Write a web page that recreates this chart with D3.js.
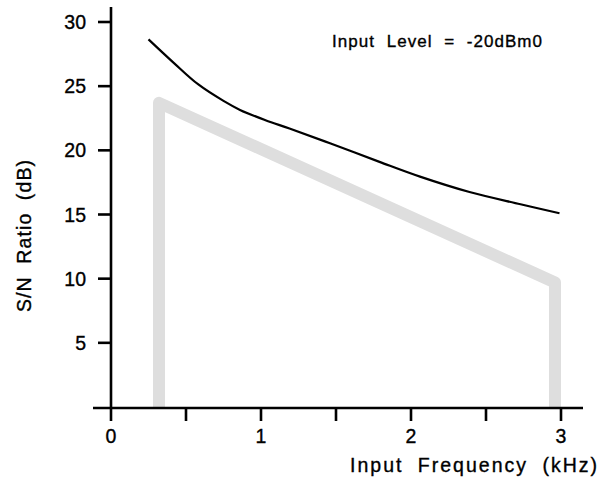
<!DOCTYPE html>
<html>
<head>
<meta charset="utf-8">
<script src="https://cdn.jsdelivr.net/npm/d3@7"></script>
<style>
  html, body { margin: 0; padding: 0; background: #fff; }
  svg { display: block; font-family: "Liberation Sans", Arial, Helvetica, sans-serif; }
  text { fill: #000; stroke: #000; stroke-width: 0.35px; }
</style>
</head>
<body>
<svg id="chart" width="598" height="481"></svg>
<script>
// Data
const curveFreq = [0.25, 0.42, 0.58, 0.75, 0.86, 1.03, 1.19, 1.46, 1.79, 2.06, 2.39, 2.73, 2.99];
const curveSN   = [28.65, 26.8, 25.15, 23.85, 23.15, 22.35, 21.7, 20.55, 19.1, 17.95, 16.75, 15.8, 15.1];
const templFreq = [0.32, 0.32, 2.96, 2.96];
const templSN   = [0, 23.7, 9.7, 0];
const xTicks = [0, 1, 2, 3];
const xMinorTicks = [0.5, 1.5, 2.5];
const yTicks = [5, 10, 15, 20, 25, 30];
const xTitle = "Input Frequency (kHz)";
const yTitle = "S/N Ratio (dB)";
const note = "Input Level = -20dBm0";

const svg = d3.select("#chart");
const x = d3.scaleLinear().domain([0, 3]).range([111, 561]);
const y = d3.scaleLinear().domain([0, 30]).range([407, 22]);

// Template (gray)
const templ = templFreq.map((f, i) => [f, templSN[i]]);
svg.append("path")
  .datum(templ)
  .attr("d", d3.line().x(d => x(d[0])).y(d => y(d[1])))
  .attr("fill", "none")
  .attr("stroke", "#dedede")
  .attr("stroke-width", 12)
  .attr("stroke-linejoin", "round")
  .attr("stroke-linecap", "butt");

// Curve
const curve = curveFreq.map((f, i) => [f, curveSN[i]]);
svg.append("path")
  .datum(curve)
  .attr("d", d3.line().x(d => x(d[0])).y(d => y(d[1])).curve(d3.curveCatmullRom.alpha(0.5)))
  .attr("fill", "none")
  .attr("stroke", "#000")
  .attr("stroke-width", 2.2);

// Y axis
const yAxis = svg.append("g").attr("transform", "translate(111,0)");
yAxis.append("line").attr("x1", 0).attr("x2", 0).attr("y1", 7).attr("y2", 408)
  .attr("stroke", "#000").attr("stroke-width", 2.6);
yAxis.selectAll("line.tick").data(yTicks).enter().append("line")
  .attr("class", "tick")
  .attr("x1", -13).attr("x2", 0)
  .attr("y1", d => y(d)).attr("y2", d => y(d))
  .attr("stroke", "#000").attr("stroke-width", 2.6);
yAxis.selectAll("text").data(yTicks).enter().append("text")
  .attr("x", -25).attr("y", d => y(d)).attr("dy", "0.36em")
  .attr("text-anchor", "end")
  .attr("font-size", 19.5)
  .text(d => d);

// X axis
const xAxis = svg.append("g").attr("transform", "translate(0,408)");
xAxis.append("line").attr("x1", 93).attr("x2", 583).attr("y1", 0).attr("y2", 0)
  .attr("stroke", "#000").attr("stroke-width", 2.6);
xAxis.selectAll("line.tick").data(xTicks.concat(xMinorTicks)).enter().append("line")
  .attr("class", "tick")
  .attr("x1", d => x(d)).attr("x2", d => x(d))
  .attr("y1", 0).attr("y2", 13)
  .attr("stroke", "#000").attr("stroke-width", 2.6);
xAxis.selectAll("text").data(xTicks).enter().append("text")
  .attr("x", d => x(d)).attr("y", 35)
  .attr("text-anchor", "middle")
  .attr("font-size", 19.5)
  .text(d => d);

// Titles
svg.append("text")
  .attr("x", 350).attr("y", 472)
  .attr("font-size", 19.5)
  .attr("word-spacing", 7)
  .attr("textLength", 247).attr("lengthAdjust", "spacing")
  .text(xTitle);
svg.append("text")
  .attr("transform", "translate(31,312) rotate(-90)")
  .attr("x", 0).attr("y", 0)
  .attr("font-size", 19.5)
  .attr("word-spacing", 6)
  .attr("textLength", 152).attr("lengthAdjust", "spacing")
  .text(yTitle);
svg.append("text")
  .attr("x", 332).attr("y", 47)
  .attr("font-size", 17)
  .attr("word-spacing", 6)
  .attr("textLength", 210).attr("lengthAdjust", "spacing")
  .text(note);
</script>
</body>
</html>
